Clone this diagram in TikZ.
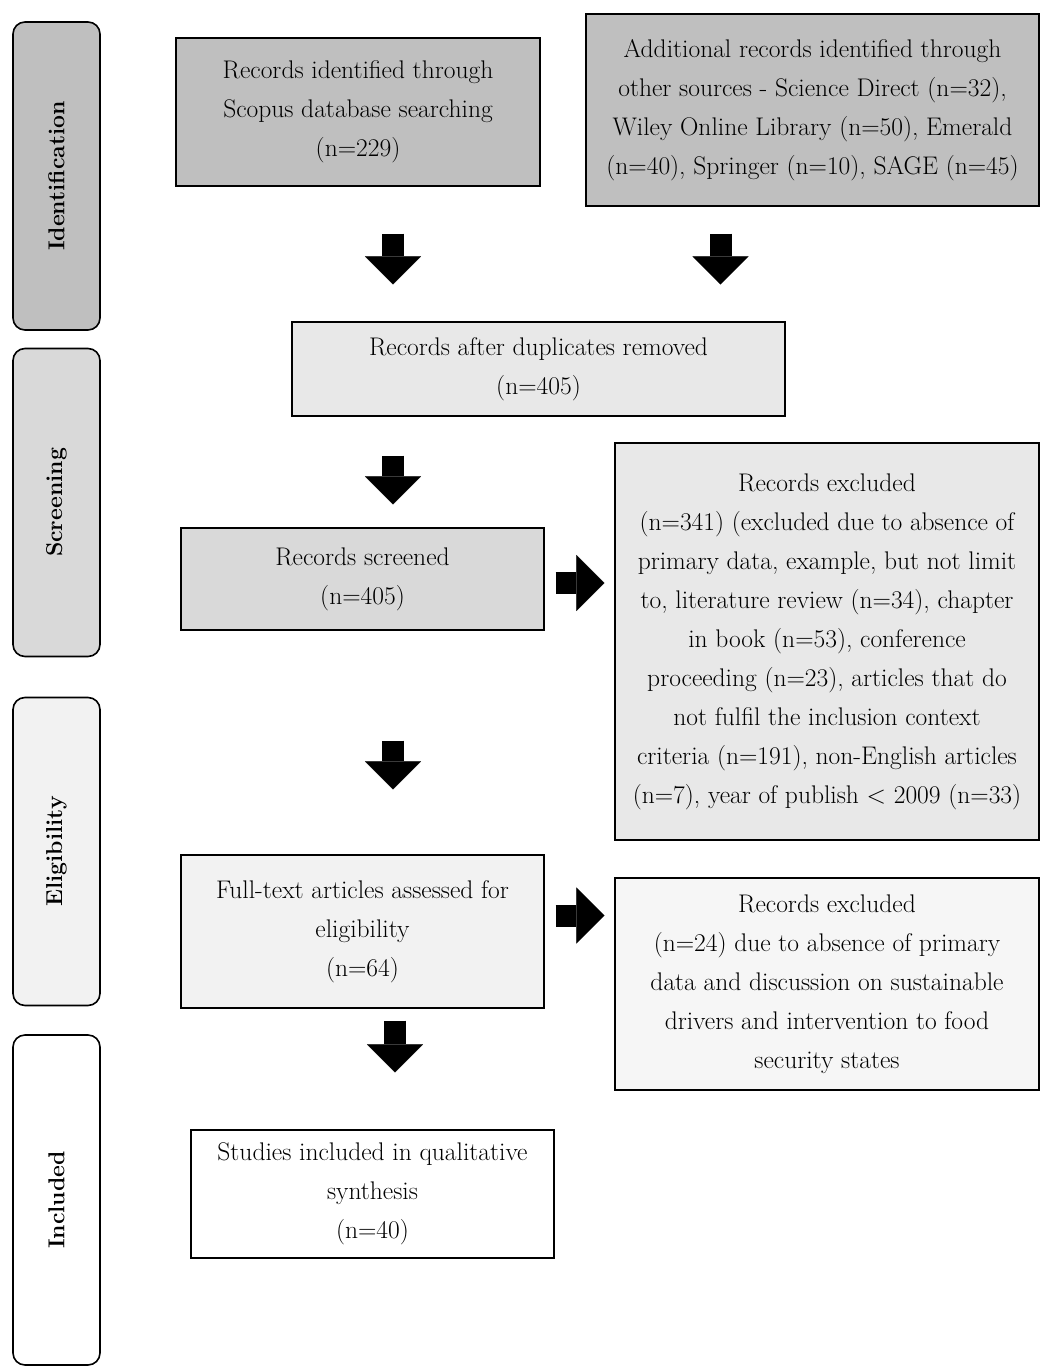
\documentclass[tikz,border=0pt]{standalone}
\usetikzlibrary{arrows.meta}
\definecolor{gA}{HTML}{BFBFBF}
\definecolor{gB}{HTML}{D9D9D9}
\definecolor{gC}{HTML}{E8E8E8}
\definecolor{gD}{HTML}{F2F2F2}
\definecolor{gE}{HTML}{F6F6F6}
\begin{document}
\begin{tikzpicture}[
	x=1pt, y=-1pt,
	font=\fontsize{25.5}{39}\selectfont,
	box/.style={draw, line width=1.2pt, inner sep=0pt, align=center},
	phase/.style={draw, line width=1.6pt, rounded corners=12pt, rotate=90,
		minimum width=308pt, minimum height=87pt, inner sep=0pt,
		font=\fontsize{23}{26}\selectfont\bfseries},
	fat/.style={line width=22pt,
		-{Triangle[width=56pt,length=28pt,line width=0.1pt]}},
	]
\useasboundingbox (0,0) rectangle (1040,1367);
\coordinate (col) at (393,0);
% stages
\node [phase, fill=gA] (ident) at (56.5,176) {Identification};
\node [phase, fill=gB] (scrn) at (56.5,502.5) {Screening};
\node [phase, fill=gD] (elig) at (56.5,851.5) {Eligibility};
\node [phase, fill=white, minimum width=330pt] (incl) at (56.5,1200) {Included};
% boxes
\node [box, fill=gA, minimum width=364pt, minimum height=148pt] (scopus) at (358,112)
	{Records identified through\\Scopus database searching\\(n=229)};
\node [box, fill=gA, minimum width=453pt, minimum height=192pt] (other) at (812.5,110)
	{Additional records identified through\\other sources - Science Direct (n=32),\\Wiley Online Library (n=50), Emerald\\(n=40), Springer (n=10), SAGE (n=45)};
\node [box, fill=gC, minimum width=493pt, minimum height=94pt] (dup) at (538.5,369)
	{Records after duplicates removed\\(n=405)};
\node [box, fill=gB, minimum width=363pt, minimum height=102pt] (screened) at (362.5,579)
	{Records screened\\(n=405)};
\node [box, fill=gC, minimum width=424pt, minimum height=397pt] (excl) at (827,641.5)
	{Records excluded\\(n=341) (excluded due to absence of\\primary data, example, but not limit\\to, literature review (n=34), chapter\\in book (n=53), conference\\proceeding (n=23), articles that do\\not fulfil the inclusion context\\criteria (n=191), non-English articles\\(n=7), year of publish \textless{} 2009 (n=33)};
\node [box, fill=gD, minimum width=363pt, minimum height=153pt] (full) at (362.5,931.5)
	{Full-text articles assessed for\\eligibility\\(n=64)};
\node [box, fill=gE, minimum width=424pt, minimum height=212pt] (exclb) at (827,984)
	{Records excluded\\(n=24) due to absence of primary\\data and discussion on sustainable\\drivers and intervention to food\\security states};
\node [box, fill=white, minimum width=363pt, minimum height=128pt] (studies) at (372.5,1194)
	{Studies included in qualitative\\synthesis\\(n=40)};
% arrows
\draw [fat, shorten <=47pt, shorten >=37pt] (scopus.south -| col) -- (dup.north -| col);
\draw [fat, shorten <=27pt, shorten >=37pt] ([xshift=-92pt]other.south) -- ([xshift=-92pt]other.south |- dup.north);
\draw [fat, shorten <=39pt, shorten >=23pt] (dup.south -| col) -- (screened.north -| col);
\draw [fat, shorten <=110pt, shorten >=65pt] (screened.south -| col) -- (full.north -| col);
\draw [fat, shorten <=12pt, shorten >=57pt] ([xshift=2pt]full.south -| col) -- ([xshift=2pt]studies.north -| col);
\draw [fat, shorten <=11pt, shorten >=10pt] ([yshift=-4pt]screened.east) -- ([yshift=-4pt]screened.east -| excl.west);
\draw [fat, shorten <=11pt, shorten >=10pt] ([yshift=16pt]full.east) -- ([yshift=16pt]full.east -| exclb.west);
\end{tikzpicture}
\end{document}
